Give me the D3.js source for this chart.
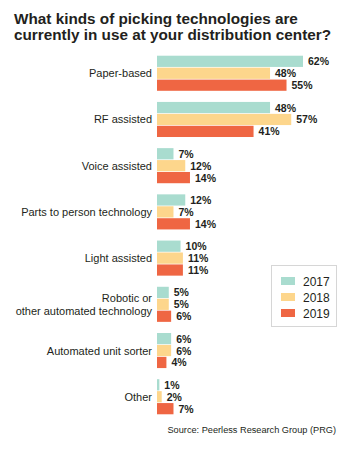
<!DOCTYPE html>
<html lang="en">
    <head>
        <meta charset="utf-8">
        <title>Picking technologies</title>
        <script type="text/javascript" src="https://cdnjs.cloudflare.com/ajax/libs/d3/7.8.5/d3.min.js"></script>
        <style>
            body { margin: 0; background: #fff; }
            svg { display: block; font-family: "Liberation Sans", Arial, sans-serif; }
        </style>
    </head>
    <body>
        <div id="chart"></div>
        <script type="text/javascript">
            // survey answers, one array per year (percent)
            var categories = ["Paper-based", "RF assisted", "Voice assisted", "Parts to person technology",
                              "Light assisted", "Robotic or\nother automated technology", "Automated unit sorter", "Other"];
            var years = ["2017", "2018", "2019"];
            var values2017 = [62, 48, 7, 12, 10, 5, 6, 1];
            var values2018 = [48, 57, 12, 7, 11, 5, 6, 2];
            var values2019 = [55, 41, 14, 14, 11, 6, 4, 7];
            var titleLines = ["What kinds of picking technologies are", "currently in use at your distribution center?"];
            var sourceText = "Source: Peerless Research Group (PRG)";

            var width = 347;
            var height = 461;
            var colors = {"2017": "#a9dccf", "2018": "#fdd68c", "2019": "#ef6643"};
            var seriesByYear = {"2017": values2017, "2018": values2018, "2019": values2019};

            var svg = d3.select("#chart")
                .append("svg")
                .attr("width", width)
                .attr("height", height);

            // title
            svg.append("g")
                .selectAll("text")
                .data(titleLines)
                .enter()
                .append("text")
                .attr("x", 14)
                .attr("y", function(d, i){ return 23.5 + i * 16.5; })
                .attr("font-size", "15.3px")
                .attr("font-weight", "bold")
                .attr("fill", "#231f20")
                .text(function(d){ return d; });

            var yScale = d3.scaleBand()
                .domain(categories)
                .range([55, 415])
                .paddingInner(0.21)
                .paddingOuter(0);

            var yInner = d3.scaleBand()
                .domain(years)
                .range([0, yScale.bandwidth()])
                .padding(0.06);

            var xScale = d3.scaleLinear()
                .domain([0, 62])
                .range([157, 303]);

            var groups = svg.selectAll("g.group")
                .data(categories)
                .enter()
                .append("g")
                .attr("class", "group")
                .attr("transform", function(d){ return "translate(0," + yScale(d) + ")"; });

            // category labels, right aligned against the bars
            groups.append("text")
                .attr("text-anchor", "end")
                .attr("font-size", "11px")
                .attr("fill", "#231f20")
                .each(function(d){
                    var lines = d.split("\n");
                    var mid = yScale.bandwidth() / 2;
                    var start = mid + 4 - (lines.length - 1) * 12.7 / 2;
                    d3.select(this).selectAll("tspan")
                        .data(lines)
                        .enter()
                        .append("tspan")
                        .attr("x", 152)
                        .attr("y", function(l, i){ return start + i * 12.7; })
                        .text(function(l){ return l; });
                });

            groups.each(function(cat, ci){
                var g = d3.select(this);
                var rows = years.map(function(y){ return {year: y, value: seriesByYear[y][ci]}; });

                g.selectAll("rect")
                    .data(rows)
                    .enter()
                    .append("rect")
                    .attr("x", xScale(0))
                    .attr("y", function(d){ return yInner(d.year); })
                    .attr("width", function(d){ return xScale(d.value) - xScale(0); })
                    .attr("height", yInner.bandwidth())
                    .attr("fill", function(d){ return colors[d.year]; });

                g.selectAll("text.value")
                    .data(rows)
                    .enter()
                    .append("text")
                    .attr("class", "value")
                    .attr("x", function(d){ return xScale(d.value) + 5; })
                    .attr("y", function(d){ return yInner(d.year) + yInner.bandwidth() / 2 + 4; })
                    .attr("font-size", "10.5px")
                    .attr("font-weight", "bold")
                    .attr("fill", "#231f20")
                    .text(function(d){ return d.value + "%"; });
            });

            // legend
            var legend = svg.append("g").attr("transform", "translate(271,265)");
            legend.append("rect")
                .attr("x", 0.5)
                .attr("y", 0.5)
                .attr("width", 65)
                .attr("height", 61)
                .attr("fill", "#fff")
                .attr("stroke", "#d6d6d6");

            var items = legend.selectAll("g.item")
                .data(years)
                .enter()
                .append("g")
                .attr("class", "item")
                .attr("transform", function(d, i){ return "translate(10," + (12 + i * 16) + ")"; });
            items.append("rect")
                .attr("width", 14)
                .attr("height", 8)
                .attr("fill", function(d){ return colors[d]; });
            items.append("text")
                .attr("x", 22)
                .attr("y", 8.5)
                .attr("font-size", "12px")
                .attr("fill", "#231f20")
                .text(function(d){ return d; });

            // source note
            svg.append("text")
                .attr("x", 336)
                .attr("y", 433)
                .attr("text-anchor", "end")
                .attr("font-size", "9.2px")
                .attr("fill", "#231f20")
                .text(sourceText);
        </script>
    </body>
</html>
